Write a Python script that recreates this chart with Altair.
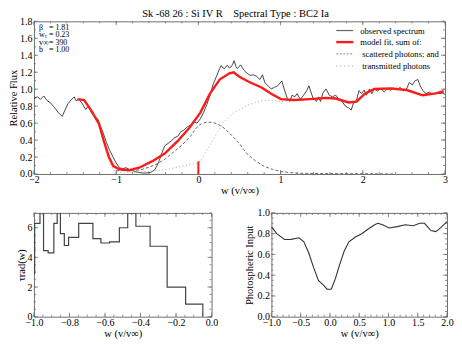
import altair as alt
import pandas as pd

# ---------------- data ----------------
obs_w = [-2.00, -1.96, -1.92, -1.88, -1.84, -1.80, -1.765, -1.73, -1.705, -1.655, -1.627, -1.588, -1.55, -1.51,
         -1.49, -1.45, -1.41, -1.37, -1.34, -1.30, -1.255, -1.224, -1.196, -1.157, -1.118, -1.078, -1.04, -1.00,
         -0.96, -0.92, -0.88, -0.843, -0.80, -0.76, -0.72, -0.68, -0.643, -0.60, -0.565, -0.53, -0.506, -0.475,
         -0.447, -0.408, -0.369, -0.33, -0.29, -0.251, -0.212, -0.173, -0.133, -0.094, -0.055, -0.016, 0.024,
         0.063, 0.102, 0.141, 0.18, 0.22, 0.259, 0.278, 0.30, 0.318, 0.337, 0.357, 0.376, 0.396, 0.415, 0.435,
         0.455, 0.474, 0.514, 0.553, 0.592, 0.631, 0.67, 0.71, 0.749, 0.78, 0.808, 0.847, 0.886, 0.925, 0.965,
         1.016, 1.043, 1.082, 1.11, 1.14, 1.173, 1.20, 1.24, 1.28, 1.318, 1.345, 1.369, 1.396, 1.435, 1.463,
         1.486, 1.514, 1.553, 1.592, 1.631, 1.67, 1.71, 1.749, 1.788, 1.827, 1.859, 1.886, 1.925, 1.953, 1.984,
         2.016, 2.043, 2.082, 2.11, 2.14, 2.18, 2.22, 2.259, 2.298, 2.337, 2.376, 2.416, 2.455, 2.494, 2.533,
         2.565, 2.604, 2.631, 2.67, 2.698, 2.73, 2.769, 2.808, 2.847, 2.886, 2.925, 2.965, 3.0]
obs_f = [0.89, 0.91, 0.88, 0.92, 0.865, 0.84, 0.80, 0.76, 0.724, 0.68, 0.743, 0.827, 0.872, 0.91,
         0.865, 0.88, 0.827, 0.76, 0.80, 0.724, 0.668, 0.65, 0.575, 0.482, 0.371, 0.278, 0.204, 0.13,
         0.074, 0.063, 0.074, 0.056, 0.04, 0.025, 0.018, 0.012, 0.011, 0.015, 0.026, 0.05, 0.093, 0.16,
         0.241, 0.334, 0.36, 0.39, 0.427, 0.445, 0.50, 0.52, 0.557, 0.575, 0.612, 0.60, 0.65,
         0.724, 0.817, 0.928, 1.058, 1.15, 1.243, 1.28, 1.25, 1.243, 1.27, 1.28, 1.25, 1.262, 1.29, 1.336,
         1.27, 1.243, 1.287, 1.225, 1.188, 1.162, 1.17, 1.15, 1.114, 1.17, 1.077, 1.04, 1.003, 1.022, 1.04,
         1.096, 1.003, 0.892, 0.854, 0.93, 0.91, 0.947, 0.88, 0.93, 0.984, 1.04, 0.966, 0.892, 0.854, 0.91,
         0.854, 0.954, 1.003, 0.93, 0.91, 0.93, 0.88, 0.854, 0.80, 0.78, 0.754, 0.836, 0.873, 0.984, 0.947,
         0.99, 0.928, 1.003, 0.947, 1.003, 0.977, 1.014, 0.966, 1.003, 0.99, 1.014, 0.99, 1.022, 0.977, 1.003,
         1.077, 1.05, 1.096, 1.114, 1.04, 0.984, 0.947, 0.966, 0.94, 0.954, 0.947, 0.954, 0.94]

fit_w = [-1.47, -1.39, -1.31, -1.21, -1.15, -1.09, -1.035, -0.96, -0.84, -0.72, -0.565, -0.41, -0.25, -0.114,
         0.024, 0.141, 0.259, 0.376, 0.43, 0.494, 0.612, 0.768, 0.886, 1.004, 1.161, 1.357, 1.553, 1.67, 1.827,
         1.925, 2.024, 2.141, 2.337, 2.533, 2.729, 2.886, 2.984]
fit_f = [0.883, 0.872, 0.76, 0.594, 0.39, 0.204, 0.093, 0.056, 0.045, 0.074, 0.148, 0.241, 0.39, 0.538,
         0.724, 0.947, 1.114, 1.188, 1.20, 1.15, 1.088, 1.02, 0.947, 0.883, 0.872, 0.883, 0.898, 0.89, 0.843,
         0.853, 0.947, 1.002, 1.01, 0.99, 0.928, 0.95, 0.976]

scat_w = [-1.0, -0.9, -0.8, -0.7, -0.6, -0.5, -0.4, -0.3, -0.2, -0.1, -0.05, 0.0, 0.05, 0.1, 0.15, 0.2, 0.25,
          0.3, 0.35, 0.4, 0.45, 0.5, 0.55, 0.6, 0.7, 0.8, 0.9, 1.0, 1.1, 1.2, 1.4, 1.7, 2.0, 2.4]
scat_f = [0.04, 0.04, 0.04, 0.05, 0.08, 0.12, 0.18, 0.26, 0.34, 0.44, 0.51, 0.57, 0.60, 0.61, 0.61, 0.60, 0.58,
          0.55, 0.51, 0.46, 0.41, 0.36, 0.29, 0.23, 0.15, 0.09, 0.055, 0.03, 0.018, 0.01, 0.006, 0.004, 0.003, 0.0]

trans_w = [-1.47, -1.39, -1.31, -1.21, -1.15, -1.09, -1.05, -1.0, -0.8, -0.6, -0.4, -0.2, -0.1, 0.0, 0.05, 0.1,
           0.15, 0.2, 0.25, 0.3, 0.4, 0.5, 0.6, 0.7, 0.8, 0.9, 1.0, 1.1, 1.2, 1.35, 1.55, 1.67, 1.83, 1.93, 2.02,
           2.14, 2.34, 2.53, 2.73, 2.89, 2.98]
trans_f = [0.883, 0.872, 0.76, 0.594, 0.39, 0.19, 0.07, 0.02, 0.02, 0.03, 0.05, 0.09, 0.11, 0.13, 0.18, 0.28,
           0.35, 0.44, 0.52, 0.60, 0.70, 0.76, 0.815, 0.845, 0.865, 0.87, 0.855, 0.855, 0.865, 0.878, 0.893,
           0.886, 0.84, 0.85, 0.945, 1.0, 1.008, 0.988, 0.927, 0.949, 0.975]

marker_w = [0.0]
marker_lo = [0.0]
marker_hi = [0.15]

tau_w = [-1.0, -0.996, -0.966, -0.946, -0.92, -0.888, -0.869, -0.851, -0.829, -0.805, -0.748, -0.668, -0.623,
         -0.574, -0.519, -0.472, -0.426, -0.346, -0.25, -0.146, -0.049]
tau_v = [2.9, 6.3, 7.5, 4.45, 4.3, 6.3, 7.5, 5.6, 4.8, 5.35, 6.3, 5.27, 4.97, 5.05, 6.0, 7.0, 6.1, 4.75, 2.0,
         0.85, 0.0]

phot_w = [-1.0, -0.91, -0.775, -0.665, -0.527, -0.445, -0.362, -0.28, -0.197, -0.115, -0.049, 0.022, 0.093,
          0.159, 0.242, 0.324, 0.434, 0.544, 0.654, 0.764, 0.82, 0.9, 1.01, 1.15, 1.286, 1.423, 1.533, 1.615,
          1.725, 1.808, 1.89, 2.0]
phot_v = [0.868, 0.80, 0.744, 0.745, 0.76, 0.722, 0.614, 0.475, 0.35, 0.306, 0.265, 0.265, 0.367, 0.49, 0.63,
          0.722, 0.768, 0.80, 0.845, 0.886, 0.90, 0.886, 0.855, 0.868, 0.886, 0.877, 0.90, 0.90, 0.83, 0.82,
          0.855, 0.917]

title_text = "Sk -68 26 : Si IV R\u00a0\u00a0\u00a0\u00a0Spectral Type : BC2 Ia"
param_names = ["\u03b2", "w\u209c", "v\u221e", "b"]
param_values = ["= 1.81", "= 0.23", "= 390", "= 1.00"]
legend_labels = ["observed spectrum", "model fit, sum of:", "scattered photons; and", "transmitted photons"]

top_x_major = [-2, -1, 0, 1, 2, 3]
top_x_minor = [i / 5 for i in range(-10, 16)]
top_y_major = [i / 5 for i in range(0, 10)]
top_y_minor = [i / 10 for i in range(0, 19)]
bl_x_major = [-1.0, -0.8, -0.6, -0.4, -0.2, 0.0]
bl_x_minor = [i / 20 for i in range(-20, 1)]
bl_y_major = [0, 2, 4, 6]
bl_y_minor = [i / 2 for i in range(0, 15)]
br_x_major = [-1.0, -0.5, 0.0, 0.5, 1.0, 1.5, 2.0]
br_x_minor = [i / 10 for i in range(-10, 21)]
br_y_major = [0.0, 0.2, 0.4, 0.6, 0.8, 1.0]
br_y_minor = [i / 20 for i in range(0, 21)]

FONT = "Liberation Serif"
FRAME = "#707070"
XTITLE = "w (v/v\u221e)"


def df(xs, ys):
    return pd.DataFrame({"x": xs, "y": ys})


def make_enc(domx, domy, xvals, yvals, xfmt, yfmt, ytitle, ytp):
    X = lambda: alt.X("x:Q", scale=alt.Scale(domain=domx, nice=False, zero=False),
                      axis=alt.Axis(values=xvals, format=xfmt, tickSize=0, domain=False, grid=False,
                                    labelPadding=1, labelFlush=False, labelOverlap=False,
                                    title=XTITLE, titlePadding=1))
    Y = lambda: alt.Y("y:Q", scale=alt.Scale(domain=domy, nice=False, zero=False),
                      axis=alt.Axis(values=yvals, format=yfmt, tickSize=0, domain=False, grid=False,
                                    labelPadding=2, labelFlush=False, labelOverlap=False,
                                    title=ytitle, titlePadding=ytp))
    return X, Y


def tick_layers(X, Y, xmaj, xmin, ymaj, ymin, W, H):
    layers = []
    for vals, L in ((xmin, 2), (xmaj, 4)):
        d = pd.DataFrame({"x": vals})
        base = alt.Chart(d).mark_rule(color=FRAME, strokeWidth=0.8)
        layers.append(base.encode(x=X(), y=alt.value(H), y2=alt.value(H - L)))
        layers.append(base.encode(x=X(), y=alt.value(0), y2=alt.value(L)))
    for vals, L in ((ymin, 2), (ymaj, 4)):
        d = pd.DataFrame({"y": vals})
        base = alt.Chart(d).mark_rule(color=FRAME, strokeWidth=0.8)
        layers.append(base.encode(y=Y(), x=alt.value(0), x2=alt.value(L)))
        layers.append(base.encode(y=Y(), x=alt.value(W), x2=alt.value(W - L)))
    return layers


one = pd.DataFrame({"k": [0]})

# ---------------- top panel ----------------
TW, TH = 412, 153
X, Y = make_enc([-2, 3], [0, 1.8], top_x_major, top_y_major, "d", ".1f", "Relative Flux", 1)
top_layers = tick_layers(X, Y, top_x_major, top_x_minor, top_y_major, top_y_minor, TW, TH)
top_layers += [
    alt.Chart(df(obs_w, obs_f)).mark_line(color="#333333", strokeWidth=0.9, clip=True).encode(x=X(), y=Y()),
    alt.Chart(df(trans_w, trans_f)).mark_line(color="#aaaaaa", strokeWidth=1, strokeDash=[1, 2.5], clip=True)
    .encode(x=X(), y=Y()),
    alt.Chart(df(scat_w, scat_f)).mark_line(color="#666666", strokeWidth=1, strokeDash=[3, 2], clip=True)
    .encode(x=X(), y=Y()),
    alt.Chart(df(fit_w, fit_f)).mark_line(color="#ff1a1a", strokeWidth=2.4, clip=True).encode(x=X(), y=Y()),
    alt.Chart(pd.DataFrame({"x": marker_w, "y": marker_lo, "y2": marker_hi}))
    .mark_rule(color="#ff1a1a", strokeWidth=2).encode(x=X(), y=Y(), y2="y2:Q"),
]
top_layers.append(alt.Chart(one).mark_text(font=FONT, fontSize=10.5, align="center", baseline="middle",
                                           color="black")
                  .encode(x=alt.value(202), y=alt.value(-7), text=alt.value(title_text)))
for i, (n, v) in enumerate(zip(param_names, param_values)):
    yy = 6.5 + i * 7.5
    top_layers.append(alt.Chart(one).mark_text(font=FONT, fontSize=8, align="left", baseline="middle",
                                               color="black")
                      .encode(x=alt.value(5), y=alt.value(yy), text=alt.value(n)))
    top_layers.append(alt.Chart(one).mark_text(font=FONT, fontSize=8, align="left", baseline="middle",
                                               color="black")
                      .encode(x=alt.value(15), y=alt.value(yy), text=alt.value(v)))
leg_y = [9.2, 20.8, 32.6, 44.8]
leg_styles = [dict(color="#666666", strokeWidth=1.2),
              dict(color="#ff1a1a", strokeWidth=2.4),
              dict(color="#888888", strokeWidth=1, strokeDash=[2, 1.5]),
              dict(color="#999999", strokeWidth=1, strokeDash=[1, 3])]
leg_tx = [327, 327, 329, 329]
for lab, yy, st, tx in zip(legend_labels, leg_y, leg_styles, leg_tx):
    top_layers.append(alt.Chart(one).mark_rule(**st)
                      .encode(x=alt.value(303), x2=alt.value(320), y=alt.value(yy)))
    top_layers.append(alt.Chart(one).mark_text(font=FONT, fontSize=8.6, align="left", baseline="middle",
                                               color="black")
                      .encode(x=alt.value(tx), y=alt.value(yy), text=alt.value(lab)))

top = alt.layer(*top_layers).properties(width=TW, height=TH)

# ---------------- bottom left ----------------
BLW, BLH = 178, 104
X2, Y2 = make_enc([-1, 0], [0, 7], bl_x_major, bl_y_major, ".1f", "d", "\u03c4rad(w)", 0)
bl_layers = tick_layers(X2, Y2, bl_x_major, bl_x_minor, bl_y_major, bl_y_minor, BLW, BLH)
bl_layers.append(alt.Chart(df(tau_w, tau_v)).mark_line(color="#444444", strokeWidth=1.2,
                                                        interpolate="step-after", clip=True)
                 .encode(x=X2(), y=Y2()))
bl = alt.layer(*bl_layers).properties(width=BLW, height=BLH)

# ---------------- bottom right ----------------
BRW, BRH = 176, 104
X3, Y3 = make_enc([-1, 2], [0, 1], br_x_major, br_y_major, ".1f", ".1f", "Photospheric Input", 2)
br_layers = tick_layers(X3, Y3, br_x_major, br_x_minor, br_y_major, br_y_minor, BRW, BRH)
br_layers.append(alt.Chart(df(phot_w, phot_v)).mark_line(color="#333333", strokeWidth=1.1, clip=True)
                 .encode(x=X3(), y=Y3()))
br = alt.layer(*br_layers).properties(width=BRW, height=BRH)

chart = alt.vconcat(
    alt.hconcat(top),
    alt.hconcat(bl, br, spacing=26),
    spacing=10,
).properties(padding=0).configure_view(stroke=FRAME, strokeWidth=1).configure_axis(
    labelFont=FONT, titleFont=FONT, labelFontSize=10, titleFontSize=10.5, labelColor="black",
    titleColor="black", titleFontWeight="normal"
)

chart.save("out.html", embed_options={"renderer": "svg", "actions": False})
